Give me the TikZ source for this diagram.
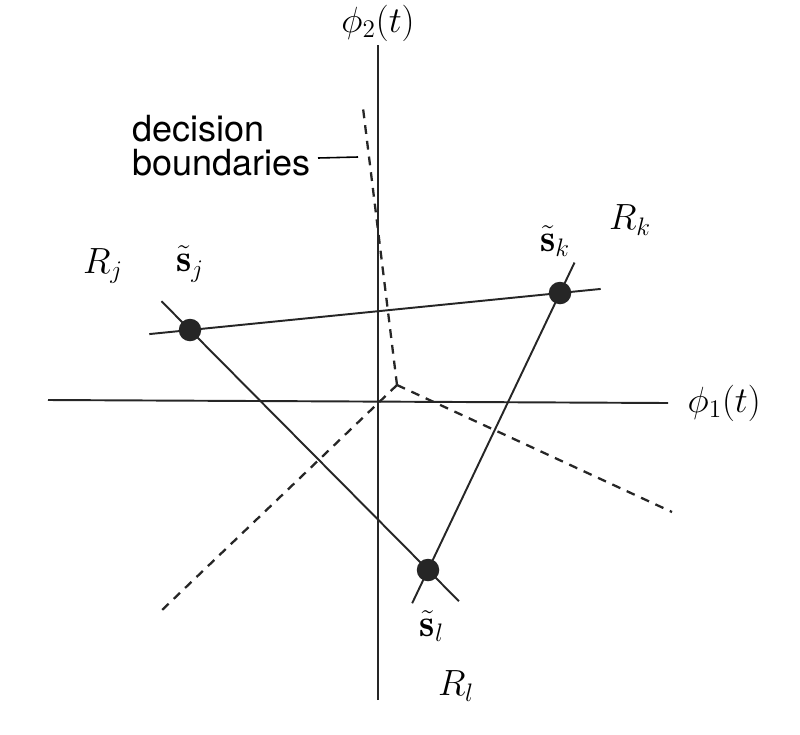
\documentclass[tikz,border=0pt]{standalone}
\usepackage{amsmath,amssymb}
\usepackage{fontspec}
\newfontfamily\helv{TeX Gyre Heros}
\usepackage{tikz}
\usetikzlibrary{positioning,calc}

\begin{document}
\begin{tikzpicture}[
x=0.02cm, y=-0.02cm,
axis/.style={line width=1.1pt, black!85},
link/.style={line width=1.1pt, black!85},
bound/.style={line width=1.3pt, black!85, dash pattern=on 5pt off 4pt},
signal/.style={circle, fill=black!85, inner sep=0pt, minimum size=0.45cm},
lbl/.style={font=\fontsize{22}{25}\selectfont, inner sep=1pt},
txt/.style={font=\helv\fontsize{20.5}{19}\selectfont, align=left, inner sep=0pt}
]
\useasboundingbox (0,0) rectangle (800,734);
% axes
\coordinate (ytop) at (378,45);
\coordinate (ybot) at (378,700);
\coordinate (xleft) at (48,400);
\coordinate (xright) at (668,403);
\draw[axis] (ybot) -- (ytop);
\draw[axis] (xleft) -- (xright);
\node[lbl, above=1pt of ytop] (phi2) {$\phi_2(t)$};
\node[lbl, right=10pt of xright] (phi1) {$\phi_1(t)$};
% signal points
\node[signal] (sj) at (190,330) {};
\node[signal] (sk) at (560,293) {};
\node[signal] (sl) at (428,570) {};
\draw[link] ($(sj)!-0.11!(sk)$) -- ($(sk)!-0.11!(sj)$);
\draw[link] ($(sj)!-0.12!(sl)$) -- ($(sl)!-0.13!(sj)$);
\draw[link] ($(sk)!-0.11!(sl)$) -- ($(sl)!-0.12!(sk)$);
% decision boundaries
\coordinate (c) at (397,385);
\coordinate (bup) at (363,108);
\coordinate (bright) at (672,512);
\coordinate (bleft) at (160,612);
\draw[bound] (c) -- (bup);
\draw[bound] (c) -- (bright);
\draw[bound] (c) -- (bleft);
\node[txt, anchor=base west] (dec) at (132,175) {decision\\boundaries};
\coordinate (lead1) at (318,158);
\coordinate (lead2) at (358,157);
\draw[line width=0.9pt] (lead1) -- (lead2);
% labels
\node[lbl] (tsj) at (190,264) {$\tilde{\mathbf{s}}_j$};
\node[lbl] (tsk) at (555,241) {$\tilde{\mathbf{s}}_k$};
\node[lbl] (tsl) at (432,626) {$\tilde{\mathbf{s}}_l$};
\node[lbl] (rj) at (103,266) {$R_j$};
\node[lbl] (rk) at (630,220) {$R_k$};
\node[lbl] (rl) at (456,686) {$R_l$};
\end{tikzpicture}
\end{document}
